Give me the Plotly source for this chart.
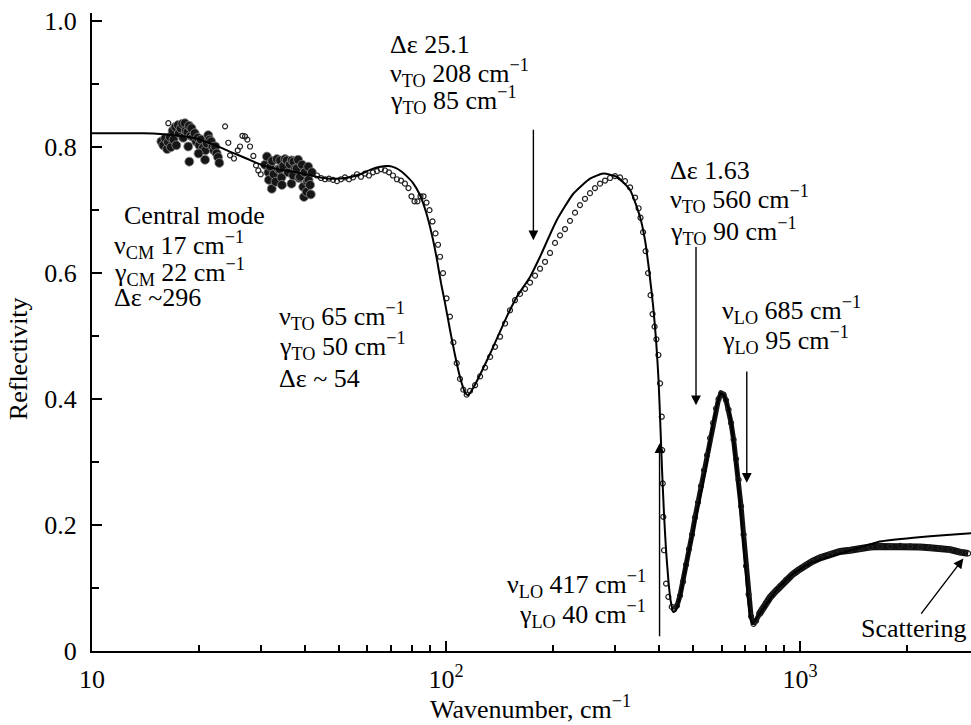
import numpy as np
import plotly.graph_objects as go

# ---- fitted reflectivity (oscillator model) ----
fit_wavenumber = [10, 12, 14, 15.6, 17.7, 19.6, 22.5, 24.5, 27.3, 30.4, 34.0, 38.7, 43.0, 47.0,
                  52.0, 57.2, 61.0, 65.1, 69.0, 72.0, 75.0, 77.4, 80.7, 84.4, 87.8, 91.3, 94.3,
                  96.8, 99.4, 102.6, 106.0, 109.5, 113.2, 115.4, 119.4, 133.2, 148.5, 158.4,
                  172.7, 184.3, 205.4, 228.8, 255.1, 278.2, 303.6, 331.1, 353.2, 364.9, 374.5,
                  384.4, 392.0, 398.4, 403.6, 407.6, 412.9, 418.3, 424.6, 430.7, 438.6, 446.4,
                  458.1, 476.4, 499.7, 521.9, 545.0, 564.1, 581.7, 597.0, 610.1, 620.8, 634.3,
                  648.1, 662.6, 676.9, 690.2, 699.3, 713.0, 730.6, 746.3, 771.0, 859.6, 957.5,
                  1067, 1355, 1683, 2090, 2597, 3041]
fit_reflectivity = [0.822, 0.822, 0.822, 0.821, 0.818, 0.814, 0.802, 0.793, 0.782, 0.771, 0.764,
                    0.759, 0.753, 0.750, 0.751, 0.757, 0.764, 0.769, 0.770, 0.767, 0.761, 0.754,
                    0.743, 0.724, 0.697, 0.660, 0.621, 0.584, 0.552, 0.510, 0.470, 0.435, 0.410,
                    0.406, 0.418, 0.472, 0.531, 0.562, 0.594, 0.626, 0.684, 0.726, 0.750, 0.758,
                    0.753, 0.732, 0.689, 0.652, 0.605, 0.549, 0.494, 0.430, 0.351, 0.287, 0.216,
                    0.160, 0.113, 0.081, 0.062, 0.065, 0.086, 0.137, 0.192, 0.244, 0.298, 0.354,
                    0.388, 0.409, 0.405, 0.393, 0.375, 0.335, 0.287, 0.232, 0.176, 0.139, 0.081,
                    0.044, 0.049, 0.060, 0.097, 0.123, 0.139, 0.158, 0.174, 0.180, 0.184, 0.187]

# ---- measured reflectivity, IR spectrometer (open circles) ----
exp_wavenumber = [16.43, 23.76, 24.27, 24.54, 25.18, 25.8, 26.19, 26.6, 27.06, 27.47, 27.95, 28.56,
                  29.06, 29.50, 29.96,
                  42.10, 43.21, 44.35, 45.52, 46.71, 47.95, 49.21, 50.50, 51.83, 53.20, 54.60,
                  56.04, 57.51, 59.03, 60.58, 62.18, 63.82, 65.50, 67.22, 69.00, 70.81, 72.68,
                  74.60, 76.56, 78.33, 79.87, 81.45, 83.05, 84.70, 86.37, 88.07, 89.81, 91.58,
                  93.39, 94.92, 96.18, 98.07, 100.3, 102.6, 104.9, 107.2, 109.5, 111.9, 114.4,
                  116.9, 120.8, 124.8, 128.9, 133.2, 137.5, 142.1, 146.8, 151.6, 156.6, 161.8,
                  167.2, 172.7, 178.4, 184.3, 190.4, 196.7, 203.2, 209.9, 216.8, 224.0, 231.4,
                  239.0, 246.9, 255.1, 263.5, 272.3, 281.3, 290.6, 300.2, 310.1, 320.3, 331.1,
                  342.0, 349.9, 354.3, 360.2, 366.1, 372.1, 378.2, 383.2, 388.2, 392.8, 398.0,
                  402.4, 406.8, 408.1, 409.4, 411.0, 412.9, 418.3, 424.6, 434.1,
                  440.6, 449.3, 458.1, 467.1, 476.3, 485.7, 495.3, 505.0, 515.0, 525.1, 535.5,
                  546.1, 556.9, 567.9, 579.1, 588.6, 598.3, 608.1, 618.1, 628.2, 638.5, 649.0,
                  659.6, 670.4, 681.4, 692.6, 703.9, 715.4, 727.2, 739.1, 751.3, 766.1, 781.1,
                  801.7, 822.8, 850.0, 878.2, 913.1, 949.4, 987.1, 1033, 1081, 1139, 1216, 1297,
                  1385, 1478, 1577, 1683, 1796, 1917, 2046, 2183, 2330, 2487, 2654, 2832, 2983]
exp_reflectivity = [0.838, 0.833, 0.807, 0.787, 0.782, 0.795, 0.801, 0.818, 0.817, 0.812, 0.801,
                    0.786, 0.771, 0.763, 0.757,
                    0.758, 0.755, 0.751, 0.749, 0.750, 0.748, 0.746, 0.749, 0.752, 0.749, 0.752,
                    0.757, 0.753, 0.758, 0.755, 0.760, 0.762, 0.765, 0.763, 0.760, 0.755, 0.749,
                    0.747, 0.742, 0.735, 0.722, 0.714, 0.714, 0.722, 0.722, 0.712, 0.700, 0.682,
                    0.663, 0.645, 0.626, 0.600, 0.560, 0.531, 0.490, 0.457, 0.432, 0.415, 0.407,
                    0.413, 0.422, 0.436, 0.450, 0.467, 0.483, 0.499, 0.520, 0.541, 0.557, 0.567,
                    0.575, 0.585, 0.596, 0.607, 0.618, 0.632, 0.648, 0.660, 0.670, 0.683, 0.696,
                    0.708, 0.718, 0.727, 0.735, 0.742, 0.747, 0.751, 0.754, 0.752, 0.746, 0.736,
                    0.720, 0.703, 0.688, 0.665, 0.635, 0.600, 0.565, 0.535, 0.515, 0.495, 0.470,
                    0.425, 0.372, 0.319, 0.266, 0.213, 0.160, 0.107, 0.086, 0.070,
                    0.066, 0.072, 0.088, 0.110, 0.137, 0.162, 0.185, 0.212, 0.236, 0.262, 0.287,
                    0.311, 0.338, 0.362, 0.385, 0.400, 0.409, 0.407, 0.398, 0.383, 0.362, 0.336,
                    0.305, 0.272, 0.230, 0.185, 0.135, 0.090, 0.055, 0.043, 0.048, 0.058, 0.066,
                    0.076, 0.085, 0.094, 0.103, 0.113, 0.121, 0.128, 0.136, 0.142, 0.148, 0.153,
                    0.158, 0.160, 0.163, 0.165, 0.166, 0.166, 0.167, 0.166, 0.165, 0.164, 0.163,
                    0.161, 0.157, 0.155]

# ---- submillimetre measurements (filled circles) ----
bwo_wavenumber = [15.7, 15.9, 16.1, 16.3, 16.4, 16.6, 16.7, 16.9, 17.0, 17.2, 17.3, 17.5, 17.6,
                  17.8, 18.0, 18.1, 18.3, 18.4, 18.6, 18.7, 18.8, 19.0, 19.1, 19.3, 19.5, 19.7,
                  19.9, 20.1, 20.3, 20.6, 20.9, 21.1, 21.3, 21.5, 21.7, 21.9, 22.1, 22.3, 22.5,
                  22.7, 18.83, 20.86, 22.89, 20.0,
                  30.8, 31.2, 31.5, 31.6, 31.9, 32.2, 32.3, 32.6, 33.0, 33.3, 33.6, 33.9, 34.0,
                  34.3, 34.4, 34.7, 35.1, 35.5, 35.8, 36.2, 36.6, 36.7, 37.0, 37.1, 37.5, 37.9,
                  38.2, 38.5, 38.7, 39.2, 39.5, 39.7, 39.9, 40.4, 40.6, 40.8, 40.9, 41.3, 41.5,
                  41.8]
bwo_reflectivity = [0.809, 0.803, 0.814, 0.797, 0.808, 0.816, 0.800, 0.826, 0.812, 0.832, 0.803,
                    0.835, 0.822, 0.830, 0.837, 0.815, 0.838, 0.826, 0.824, 0.801, 0.834, 0.818,
                    0.830, 0.816, 0.822, 0.809, 0.815, 0.803, 0.812, 0.799, 0.795, 0.806, 0.819,
                    0.812, 0.809, 0.800, 0.795, 0.801, 0.790, 0.784, 0.777, 0.780, 0.775, 0.790,
                    0.772, 0.785, 0.760, 0.748, 0.769, 0.734, 0.778, 0.757, 0.745, 0.781, 0.765,
                    0.765, 0.779, 0.752, 0.740, 0.770, 0.781, 0.779, 0.760, 0.773, 0.742, 0.779,
                    0.755, 0.777, 0.766, 0.766, 0.780, 0.751, 0.753, 0.772, 0.737, 0.721, 0.760,
                    0.729, 0.745, 0.769, 0.748, 0.740, 0.725, 0.760]

# axis ticks
x_major = [10, 100, 1000]
x_major_text = ["10", "10<sup>2</sup>", "10<sup>3</sup>"]
x_minor = [20, 30, 40, 50, 60, 70, 80, 90, 200, 300, 400, 500, 600, 700, 800, 900, 2000]
y_major = [0, 0.2, 0.4, 0.6, 0.8, 1.0]
y_major_text = ["0", "0.2", "0.4", "0.6", "0.8", "1.0"]
y_minor = [0.1, 0.3, 0.5, 0.7, 0.9]

FONT = "Liberation Serif"
FS = 26

exp_w = np.array(exp_wavenumber)
exp_r = np.array(exp_reflectivity)
dense = exp_w >= 436
far = exp_w >= 760

fig = go.Figure()

# dense parts of the spectrum where circles merge into a band
fig.add_trace(go.Scatter(x=exp_w[dense], y=exp_r[dense], mode="lines",
                         line=dict(color="#111", width=5), hoverinfo="skip",
                         showlegend=False))
fig.add_trace(go.Scatter(x=exp_w[far], y=exp_r[far], mode="lines",
                         line=dict(color="#111", width=7), hoverinfo="skip",
                         showlegend=False))
fig.add_trace(go.Scatter(x=exp_w, y=exp_r, mode="markers",
                         marker=dict(symbol="circle-open", size=5, color="#222",
                                     line=dict(width=1.2)),
                         showlegend=False))
fig.add_trace(go.Scatter(x=bwo_wavenumber, y=bwo_reflectivity, mode="markers",
                         marker=dict(symbol="circle", size=9, color="#161616",
                                     line=dict(color="#8a8a8a", width=0.8)),
                         showlegend=False))
fig.add_trace(go.Scatter(x=fit_wavenumber, y=fit_reflectivity, mode="lines",
                         line=dict(color="black", width=2, shape="spline", smoothing=0.5),
                         showlegend=False))

L = np.log10

def label(text, wn, r, anchor="left"):
    fig.add_annotation(x=L(wn), y=r, xref="x", yref="y", text=text, showarrow=False,
                       xanchor=anchor, yanchor="middle",
                       font=dict(family=FONT, size=FS, color="black"))

def arrow(wn_tip, r_tip, wn_tail, r_tail):
    fig.add_annotation(x=L(wn_tip), y=r_tip, ax=L(wn_tail), ay=r_tail,
                       xref="x", yref="y", axref="x", ayref="y", text="",
                       showarrow=True, arrowhead=2, arrowsize=1.4, arrowwidth=1.4,
                       arrowcolor="black", standoff=0, startstandoff=0)

CM = "cm<sup>\u22121</sup>"

# central mode
label("Central mode", 12.15, 0.692)
label("\u03bd<sub>CM</sub> 17 " + CM, 11.39, 0.644)
label("\u03b3<sub>CM</sub> 22 " + CM, 11.39, 0.602)
label("\u0394\u03b5 ~296", 11.39, 0.562)
# 65 cm-1 mode
label("\u03bd<sub>TO</sub> 65 " + CM, 33.3, 0.532)
label("\u03b3<sub>TO</sub> 50 " + CM, 33.3, 0.484)
label("\u0394\u03b5 ~ 54", 33.3, 0.432)
# 208 cm-1 mode
label("\u0394\u03b5 25.1", 68.6, 0.9635)
label("\u03bd<sub>TO</sub> 208 " + CM, 68.6, 0.918)
label("\u03b3<sub>TO</sub> 85 " + CM, 68.6, 0.875)
arrow(176.5, 0.652, 176.5, 0.830)
# 560 cm-1 mode
label("\u0394\u03b5 1.63", 423.8, 0.763)
label("\u03bd<sub>TO</sub> 560 " + CM, 423.8, 0.717)
label("\u03b3<sub>TO</sub> 90 " + CM, 423.8, 0.667)
arrow(508.3, 0.390, 508.3, 0.644)
# LO modes
label("\u03bd<sub>LO</sub> 685 " + CM, 594.3, 0.542)
label("\u03b3<sub>LO</sub> 95 " + CM, 594.3, 0.494)
arrow(707.2, 0.267, 707.2, 0.446)
label("\u03bd<sub>LO</sub> 417 " + CM, 372.1, 0.106, anchor="right")
label("\u03b3<sub>LO</sub> 40 " + CM, 372.1, 0.058, anchor="right")
arrow(401.0, 0.330, 401.0, 0.021)
# scattering tail
label("Scattering", 2983, 0.035, anchor="right")
arrow(2893, 0.147, 2183, 0.057)

# axis titles
fig.add_annotation(x=0.4985, y=-0.089, xref="paper", yref="paper",
                   text="Wavenumber, " + CM, showarrow=False,
                   xanchor="center", yanchor="middle",
                   font=dict(family=FONT, size=FS, color="black"))
fig.add_annotation(x=-0.0842, y=0.459, xref="paper", yref="paper",
                   text="Reflectivity", showarrow=False, textangle=-90,
                   xanchor="center", yanchor="middle",
                   font=dict(family=FONT, size=FS, color="black"))

fig.update_xaxes(type="log", range=[1, np.log10(3040)], showline=True, linecolor="black",
                 linewidth=2, ticks="inside", ticklen=10, tickwidth=1.5, tickcolor="black",
                 tickmode="array", tickvals=x_major, ticktext=x_major_text,
                 tickfont=dict(family=FONT, size=FS, color="black"), ticklabelstandoff=4,
                 minor=dict(ticks="inside", ticklen=6, tickwidth=1.5, tickcolor="black",
                            tickmode="array", tickvals=x_minor, showgrid=False),
                 showgrid=False, zeroline=False)
fig.update_yaxes(range=[0, 1.013], showline=True, linecolor="black", linewidth=2,
                 ticks="inside", ticklen=10, tickwidth=1.5, tickcolor="black",
                 tickmode="array", tickvals=y_major, ticktext=y_major_text,
                 tickfont=dict(family=FONT, size=FS, color="black"), ticklabelstandoff=8,
                 minor=dict(ticks="inside", ticklen=7, tickwidth=1.5, tickcolor="black",
                            tickmode="array", tickvals=y_minor, showgrid=False),
                 showgrid=False, zeroline=False)

fig.update_layout(width=971, height=725, margin=dict(l=92, r=0, t=13, b=74),
                  paper_bgcolor="white", plot_bgcolor="white", showlegend=False,
                  font=dict(family=FONT, size=FS, color="black"))

fig.write_html("out.html")
